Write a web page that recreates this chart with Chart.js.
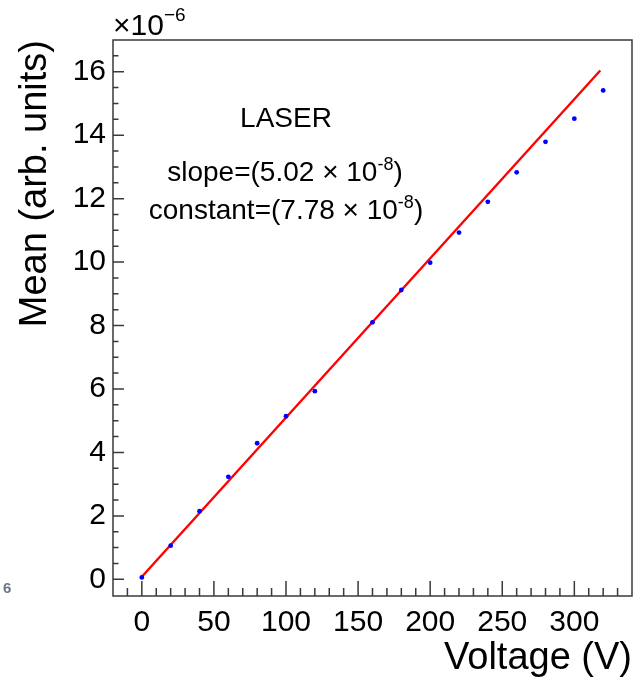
<!DOCTYPE html>
<html>
<head>
<meta charset="utf-8">
<script src="https://cdn.jsdelivr.net/npm/chart.js@4/dist/chart.umd.min.js"></script>
<style>
  html, body { margin: 0; padding: 0; background: #ffffff; }
  #wrap { position: relative; width: 636px; height: 681px; }
</style>
</head>
<body>
<div id="wrap"><canvas id="c" width="636" height="681"></canvas></div>
<script>
// ---- data ----
const voltage = [0, 20, 40, 60, 80, 100, 120, 160, 180, 200, 220, 240, 260, 280, 300, 320];
const meanValues = [0.06, 1.06, 2.15, 3.23, 4.29, 5.14, 5.93, 8.10, 9.12, 9.98, 10.93, 11.90, 12.83, 13.79, 14.52, 15.41];
const fitVoltage = [0, 318];
const fitMean = [0.08, 16.04];
const xTickLabels = [0, 50, 100, 150, 200, 250, 300];
const yTickLabels = [0, 2, 4, 6, 8, 10, 12, 14, 16];
const xTitle = 'Voltage (V)';
const yTitle = 'Mean (arb. units)';
const exponentBase = '×10';
const exponentPower = '−6';
const boxTitle = 'LASER';
const slopeText = ['slope=(5.02 × 10', '-8', ')'];
const constText = ['constant=(7.78 × 10', '-8', ')'];
const strayText = '6';

const FONT = '"Liberation Sans", Arial, Helvetica, sans-serif';

const pointData = voltage.map((v, i) => ({ x: v, y: meanValues[i] }));
const fitData = fitVoltage.map((v, i) => ({ x: v, y: fitMean[i] }));

function drawSupLine(ctx, parts, cx, baseY, size, supSize, raise) {
  ctx.font = size + 'px ' + FONT;
  const w0 = ctx.measureText(parts[0]).width;
  const w2 = ctx.measureText(parts[2]).width;
  ctx.font = supSize + 'px ' + FONT;
  const w1 = ctx.measureText(parts[1]).width;
  let x = cx - (w0 + w1 + w2) / 2;
  ctx.textAlign = 'left';
  ctx.textBaseline = 'alphabetic';
  ctx.font = size + 'px ' + FONT;
  ctx.fillText(parts[0], x, baseY);
  x += w0;
  ctx.font = supSize + 'px ' + FONT;
  ctx.fillText(parts[1], x, baseY - raise);
  x += w1;
  ctx.font = size + 'px ' + FONT;
  ctx.fillText(parts[2], x, baseY);
}

const framePlugin = {
  id: 'rootFrame',
  afterDraw(chart) {
    const ctx = chart.ctx;
    const a = chart.chartArea;
    const xs = chart.scales.x, ys = chart.scales.y;
    ctx.save();
    ctx.strokeStyle = '#3a3a3a';
    ctx.lineWidth = 1.5;
    // inward ticks on x axis
    ctx.beginPath();
    for (let v = -20; v <= 340; v += 10) {
      const px = xs.getPixelForValue(v);
      if (px < a.left + 1 || px > a.right - 1) continue;
      const len = (v % 50 === 0) ? 15 : 8;
      ctx.moveTo(px, a.bottom);
      ctx.lineTo(px, a.bottom - len);
    }
    // inward ticks on y axis
    for (let v = 0; v <= 17; v += 0.5) {
      const py = ys.getPixelForValue(v);
      if (py < a.top + 1 || py > a.bottom - 1) continue;
      const len = (Math.abs(v % 2) < 1e-9) ? 11 : 5.5;
      ctx.moveTo(a.left, py);
      ctx.lineTo(a.left + len, py);
    }
    ctx.stroke();
    // frame
    ctx.strokeRect(a.left, a.top, a.right - a.left, a.bottom - a.top);

    // exponent label
    ctx.fillStyle = '#000';
    ctx.textAlign = 'left';
    ctx.textBaseline = 'alphabetic';
    ctx.font = '30px ' + FONT;
    ctx.fillText(exponentBase, a.left, 35);
    const wb = ctx.measureText(exponentBase).width;
    ctx.font = '19px ' + FONT;
    ctx.fillText(exponentPower, a.left + wb, 21);

    // annotation box text
    ctx.font = '28px ' + FONT;
    ctx.textAlign = 'center';
    ctx.fillText(boxTitle, 286, 127);
    drawSupLine(ctx, slopeText, 285, 181, 28, 18, 11);
    drawSupLine(ctx, constText, 286, 219, 28, 18, 11);

    // stray glyph at bottom left
    ctx.fillStyle = '#6f7687';
    ctx.font = 'bold 15px ' + FONT;
    ctx.textAlign = 'left';
    ctx.fillText(strayText, 3, 593);
    ctx.restore();
  }
};

new Chart(document.getElementById('c'), {
  type: 'scatter',
  data: {
    datasets: [
      {
        label: 'fit',
        data: fitData,
        showLine: true,
        borderColor: '#ff0000',
        borderWidth: 2.4,
        pointRadius: 0,
        pointHoverRadius: 0,
        fill: false,
        order: 2
      },
      {
        label: 'points',
        data: pointData,
        showLine: false,
        backgroundColor: '#0000ff',
        borderColor: '#0000ff',
        borderWidth: 0,
        pointRadius: 2.4,
        order: 1
      }
    ]
  },
  options: {
    responsive: false,
    animation: false,
    events: [],
    layout: { padding: { top: 40, right: 4, left: 0, bottom: 0 } },
    plugins: { legend: { display: false }, tooltip: { enabled: false } },
    scales: {
      x: {
        type: 'linear',
        min: -20,
        max: 340,
        grid: { display: false, drawTicks: false },
        border: { display: false },
        afterBuildTicks(scale) { scale.ticks = xTickLabels.map(v => ({ value: v })); },
        afterFit(scale) { scale.height = 85; },
        ticks: {
          autoSkip: false, maxRotation: 0, minRotation: 0,
          padding: 9,
          color: '#000',
          font: { family: FONT, size: 30 }
        },
        title: {
          display: true, text: xTitle, align: 'end', color: '#000',
          font: { family: FONT, size: 38 },
          padding: { top: 0, bottom: 0 }
        }
      },
      y: {
        type: 'linear',
        min: -0.525,
        max: 17,
        grid: { display: false, drawTicks: false },
        border: { display: false },
        afterBuildTicks(scale) { scale.ticks = yTickLabels.map(v => ({ value: v })); },
        afterFit(scale) { scale.width = 113; },
        ticks: {
          autoSkip: false,
          padding: 7,
          color: '#000',
          font: { family: FONT, size: 30 }
        },
        title: {
          display: true, text: yTitle, align: 'end', color: '#000',
          font: { family: FONT, size: 38 },
          padding: { top: 13, bottom: 0 }
        }
      }
    }
  },
  plugins: [framePlugin]
});
</script>
</body>
</html>
